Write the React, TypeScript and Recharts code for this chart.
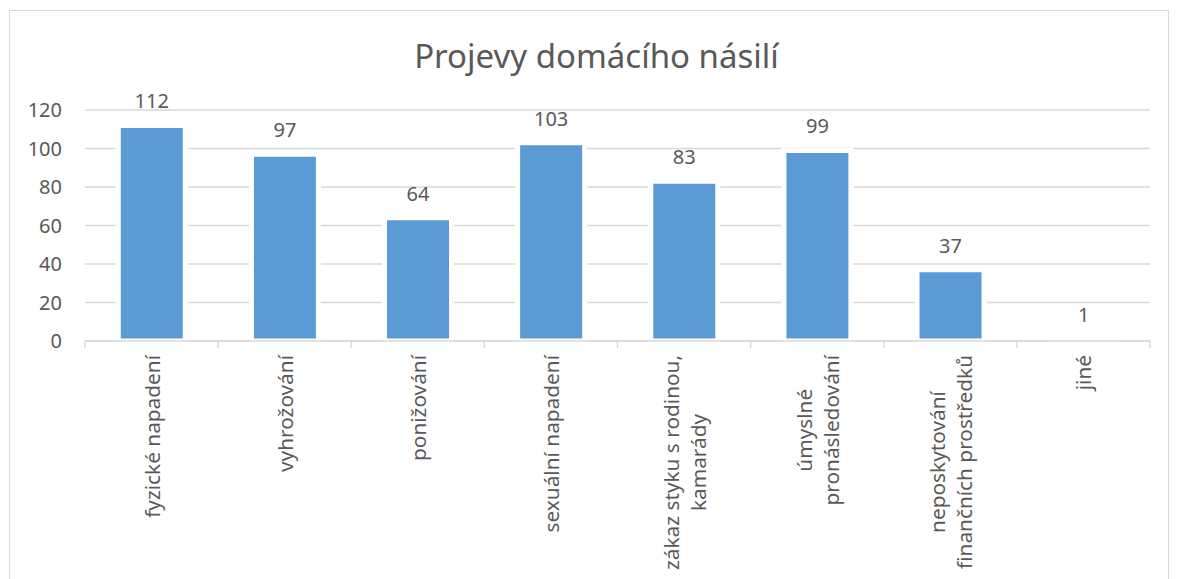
import { BarChart, Bar, XAxis, YAxis, CartesianGrid, LabelList } from 'recharts';

const categories = [
  'fyzické napadení',
  'vyhrožování',
  'ponižování',
  'sexuální napadení',
  'zákaz styku s rodinou,\nkamarády',
  'úmyslné\npronásledování',
  'neposkytování\nfinančních prostředků',
  'jiné',
];
const values = [112, 97, 64, 103, 83, 99, 37, 1];
const yTicks = [0, 20, 40, 60, 80, 100, 120];

const data = categories.map((name, i) => ({ name, value: values[i] }));

const TEXT = '#595959';
const GRID = '#D9D9D9';
const FONT = '"Noto Sans", sans-serif';
const TICK_FONT_SIZE = 20.8;

let ctx: CanvasRenderingContext2D | null = null;
function measure(s: string) {
  if (!ctx) {
    ctx = document.createElement('canvas').getContext('2d');
  }
  if (!ctx) return s.length * 10;
  ctx.font = `${TICK_FONT_SIZE}px "Noto Sans"`;
  return ctx.measureText(s).width;
}

function CategoryTick(props: any) {
  const { x, y, payload, index, visibleTicksCount } = props;
  const half = payload.offset ?? 66.5;
  const lines: string[] = String(payload.value).split('\n');
  const longest = Math.max(...lines.map(measure));
  const gap = 14;
  const lh = 27;
  const cx = -(gap + longest / 2);
  return (
    <g>
      <line x1={x - half} x2={x - half} y1={y} y2={y + 7} stroke={GRID} strokeWidth={1.5} />
      {index === visibleTicksCount - 1 && (
        <line x1={x + half} x2={x + half} y1={y} y2={y + 7} stroke={GRID} strokeWidth={1.5} />
      )}
      <g transform={`translate(${x},${y}) rotate(-90)`}>
        {lines.map((ln, i) => (
          <text
            key={i}
            x={cx}
            y={(i - (lines.length - 1) / 2) * lh}
            textAnchor="middle"
            dominantBaseline="central"
            fill={TEXT}
            fontSize={TICK_FONT_SIZE}
            fontFamily={FONT}
          >
            {ln}
          </text>
        ))}
      </g>
    </g>
  );
}

export default function App() {
  return (
    <div
      style={{
        position: 'relative',
        marginLeft: 1,
        marginTop: 2,
        width: 1158,
        height: 580,
        border: `1px solid ${GRID}`,
        background: '#fff',
        fontFamily: FONT,
      }}
    >
      <div
        style={{
          position: 'absolute',
          top: 28,
          left: 586.5,
          transform: 'translateX(-50%)',
          fontSize: 33,
          lineHeight: 1,
          color: TEXT,
          whiteSpace: 'nowrap',
        }}
      >
        Projevy domácího násilí
      </div>
      <BarChart
        width={1158}
        height={580}
        data={data}
        margin={{ top: 99, right: 18, left: 0, bottom: 0 }}
        barCategoryGap="25%"
      >
        <CartesianGrid vertical={false} stroke={GRID} strokeWidth={1.5} />
        <XAxis
          dataKey="name"
          interval={0}
          height={250}
          axisLine={{ stroke: GRID, strokeWidth: 1.5 }}
          tickLine={false}
          tickSize={0}
          tickMargin={0}
          tick={<CategoryTick />}
        />
        <YAxis
          width={75}
          domain={[0, 120]}
          ticks={yTicks}
          axisLine={false}
          tickLine={false}
          tickSize={0}
          tickMargin={23}
          tick={{ fill: TEXT, fontSize: 20, fontFamily: FONT }}
        />
        <Bar dataKey="value" fill="#5B9BD5" stroke="#fff" strokeWidth={5} isAnimationActive={false}>
          <LabelList
            dataKey="value"
            position="top"
            offset={17}
            fill={TEXT}
            fontSize={20}
            fontFamily={FONT}
          />
        </Bar>
      </BarChart>
    </div>
  );
}
